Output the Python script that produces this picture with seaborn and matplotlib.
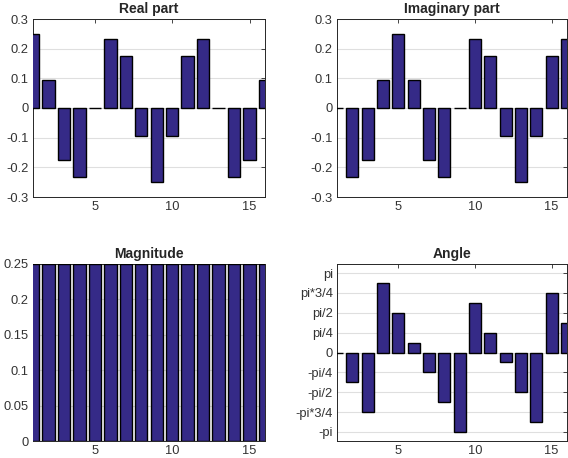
import matplotlib
matplotlib.use("Agg")
import matplotlib.pyplot as plt
import numpy as np
import seaborn as sns

# 16-point spectrum
n = list(range(1, 17))
real_part = [0.25, 0.0957, -0.1768, -0.2310, 0.0, 0.2310, 0.1768, -0.0957,
             -0.25, -0.0957, 0.1768, 0.2310, 0.0, -0.2310, -0.1768, 0.0957]
imag_part = [0.0, -0.2310, -0.1768, 0.0957, 0.25, 0.0957, -0.1768, -0.2310,
             0.0, 0.2310, 0.1768, -0.0957, -0.25, -0.0957, 0.1768, 0.2310]
magnitude = [0.25] * 16
angle = [0.0, -1.1781, -2.3562, 2.7489, 1.5708, 0.3927, -0.7854, -1.9635,
         -3.1416, 1.9635, 0.7854, -0.3927, -1.5708, -2.7489, 2.3562, 1.1781]

angle_ticks = [-3.1416, -2.3562, -1.5708, -0.7854, 0.0, 0.7854, 1.5708, 2.3562, 3.1416]
angle_labels = ["-pi", "-pi*3/4", "-pi/2", "-pi/4", "0", "pi/4", "pi/2", "pi*3/4", "pi"]

bar_color = "#352a87"
axis_color = "#262626"

sns.set_style("white")
plt.rcParams["font.family"] = ["Liberation Sans", "DejaVu Sans"]
plt.rcParams["font.size"] = 9

W, H = 568, 458
fig = plt.figure(figsize=(W / 100, H / 100), dpi=100)


def px_axes(left, top, right, bottom):
    return fig.add_axes([left / W, 1 - bottom / H, (right - left) / W, (bottom - top) / H])


def draw(ax, values, title, ylim, yticks, yticklabels=None):
    sns.barplot(x=n, y=values, ax=ax, native_scale=True, width=0.8,
                color=bar_color, edgecolor="black", linewidth=1.0,
                saturation=1, zorder=3)
    ax.set_xlim(1, 16)
    ax.set_ylim(*ylim)
    ax.set_xticks([5, 10, 15])
    ax.set_yticks(yticks)
    if yticklabels is not None:
        ax.set_yticklabels(yticklabels)
    ax.yaxis.grid(True, color="#dfdfdf", linewidth=0.8, zorder=0)
    ax.xaxis.grid(False)
    ax.set_axisbelow(True)
    ax.tick_params(direction="in", length=3, width=0.6, top=True, right=True,
                   colors=axis_color, labelsize=9.3, labelcolor="#333333", pad=3)
    for sp in ax.spines.values():
        sp.set_visible(True)
        sp.set_color(axis_color)
        sp.set_linewidth(0.7)
    ax.set_title(title, fontsize=10, fontweight="bold", pad=4)
    ax.set_xlabel("")
    ax.set_ylabel("")


ax1 = px_axes(33, 19, 265, 197)
draw(ax1, real_part, "Real part", (-0.3, 0.3), [-0.3, -0.2, -0.1, 0, 0.1, 0.2, 0.3],
     ["-0.3", "-0.2", "-0.1", "0", "0.1", "0.2", "0.3"])

ax2 = px_axes(337, 19, 567, 197)
draw(ax2, imag_part, "Imaginary part", (-0.3, 0.3), [-0.3, -0.2, -0.1, 0, 0.1, 0.2, 0.3],
     ["-0.3", "-0.2", "-0.1", "0", "0.1", "0.2", "0.3"])

ax3 = px_axes(33, 264, 265, 441)
draw(ax3, magnitude, "Magnitude", (0, 0.25), [0, 0.05, 0.1, 0.15, 0.2, 0.25],
     ["0", "0.05", "0.1", "0.15", "0.2", "0.25"])

ax4 = px_axes(337, 264, 567, 441)
draw(ax4, angle, "Angle", (-3.5, 3.5), angle_ticks, angle_labels)

fig.savefig("out.png", dpi=100)
